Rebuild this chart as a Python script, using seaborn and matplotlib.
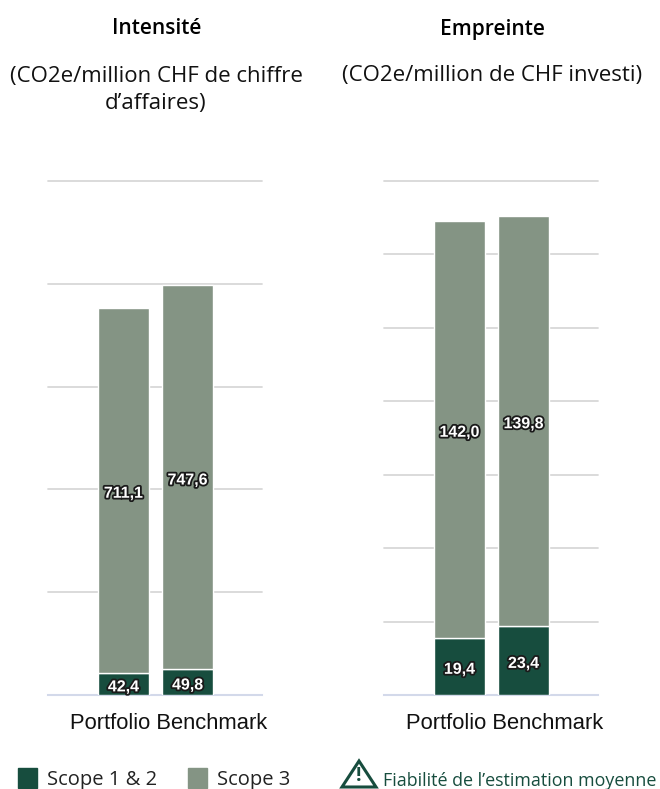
import matplotlib
matplotlib.use('Agg')
import matplotlib.pyplot as plt
import matplotlib.patheffects as pe
from matplotlib.patches import Polygon, Patch
import seaborn as sns

W, H = 660, 789

benches = ['Portfolio', 'Benchmark']
intensity_s12 = [42.4, 49.8]
intensity_s3 = [711.1, 747.6]
footprint_s12 = [19.4, 23.4]
footprint_s3 = [142.0, 139.8]
intensity_ticks = [0, 200, 400, 600, 800, 1000]
footprint_ticks = [0, 25, 50, 75, 100, 125, 150, 175]

DARK = '#174d3e'
SAGE = '#849484'
GRID = '#d8d8d8'
BASE = '#d3d9ea'
TITLE_FONT = 'Open Sans'

sns.set_theme(style='white')
plt.rcParams['font.family'] = ['Liberation Sans', 'DejaVu Sans']


def axes_box(left, right, top, bottom):
    return [left / W, 1 - bottom / H, (right - left) / W, (bottom - top) / H]


def label_bar(ax, x, y, val):
    # labels sit a touch under the segment centre in the original
    txt = ax.annotate(f'{val:.1f}'.replace('.', ','), (x, y), xytext=(0, -2), textcoords='offset points',
                      ha='center', va='center', color='white', fontsize=11.5, fontweight='bold', zorder=5)
    txt.set_path_effects([pe.withStroke(linewidth=2.6, foreground='#1a1a1a')])


def stacked(ax, s12, s3, ticks):
    sns.barplot(x=benches, y=s12, color=DARK, width=0.8, saturation=1, ax=ax,
                edgecolor='white', linewidth=1, zorder=3)
    sns.barplot(x=benches, y=s3, bottom=s12, color=SAGE, width=0.8, saturation=1, ax=ax,
                edgecolor='white', linewidth=1, zorder=3)
    ax.set_xlim(-1.18, 2.16)
    ax.set_ylim(ticks[0], ticks[-1])
    ax.set_yticks(ticks)
    ax.tick_params(left=False, bottom=False, labelleft=False, labelbottom=False)
    ax.set_ylabel('')
    ax.set_xlabel('Portfolio Benchmark', fontsize=15.8, color='#111111', x=0.563, labelpad=13)
    ax.yaxis.grid(True, color=GRID, linewidth=1.3, clip_on=False)
    ax.set_axisbelow(True)
    sns.despine(ax=ax, left=True, right=True, top=True)
    ax.spines['bottom'].set_color(BASE)
    ax.spines['bottom'].set_linewidth(1.5)
    for i in range(2):
        label_bar(ax, i, s12[i] * 0.5, s12[i])
        label_bar(ax, i, s12[i] + s3[i] * 0.5, s3[i])


fig = plt.figure(figsize=(W / 100, H / 100), dpi=100)
ax1 = fig.add_axes(axes_box(48, 262, 181, 695))
ax2 = fig.add_axes(axes_box(384, 598, 181, 695))
stacked(ax1, intensity_s12, intensity_s3, intensity_ticks)
stacked(ax2, footprint_s12, footprint_s3, footprint_ticks)

fig.text(157 / W, 1 - 29 / H, 'Intensité', ha='center', va='center', fontsize=15,
         fontweight='semibold', family=TITLE_FONT, color='black')
fig.text(492 / W, 1 - 29 / H, 'Empreinte', ha='center', va='center', fontsize=15,
         fontweight='semibold', family=TITLE_FONT, color='black')
fig.text(156 / W, 1 - 90 / H, '(CO2e/million CHF de chiffre\nd’affaires)', ha='center', va='center',
         fontsize=16, family=TITLE_FONT, color='#111111', linespacing=1.4)
fig.text(492 / W, 1 - 76 / H, '(CO2e/million de CHF investi)', ha='center', va='center',
         fontsize=16, family=TITLE_FONT, color='#111111')

handles = [Patch(color=DARK, label='Scope 1 & 2'), Patch(color=SAGE, label='Scope 3')]
fig.legend(handles=handles, loc='center left', bbox_to_anchor=(18 / W, 1 - 779 / H), ncol=2, frameon=False,
           prop={'family': TITLE_FONT, 'size': 14.5}, handlelength=0.95, handleheight=1.1,
           handletextpad=0.5, columnspacing=1.5, labelcolor='#222222', borderpad=0, borderaxespad=0)

fig.add_artist(Polygon([(342 / W, 1 - 787 / H), (359 / W, 1 - 761 / H), (376 / W, 1 - 787 / H)],
                       closed=True, fill=False, edgecolor=DARK, linewidth=2.2,
                       transform=fig.transFigure))
fig.text(359 / W, 1 - 776 / H, '!', ha='center', va='center', fontsize=14, fontweight='bold',
         color=DARK, family=TITLE_FONT)
fig.text(383 / W, 1 - 781 / H, 'Fiabilité de l’estimation moyenne', ha='left', va='center',
         fontsize=12.9, color=DARK, family=TITLE_FONT)

fig.savefig('out.png', dpi=100)
plt.close(fig)
